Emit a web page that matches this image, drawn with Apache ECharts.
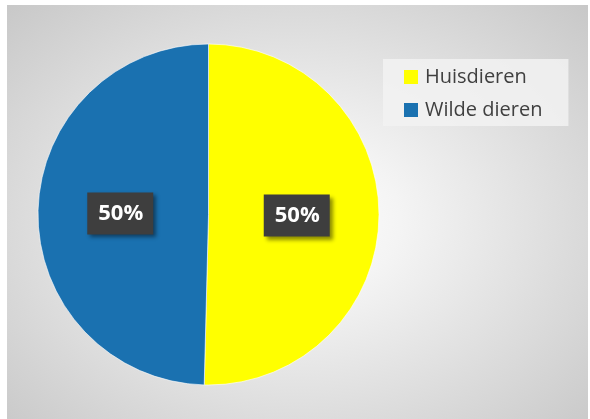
<!DOCTYPE html>
<html>
<head>
<meta charset="utf-8">
<script src="https://cdn.jsdelivr.net/npm/echarts@6/dist/echarts.min.js"></script>
<style>
html,body{margin:0;padding:0;background:#fff;width:590px;height:419px;overflow:hidden;}
#wrap{position:absolute;left:7px;top:5px;width:581px;height:414px;
background:radial-gradient(ellipse farthest-corner at 50% 52%, #ffffff 0%, #f4f4f4 25%, #c8c8c8 100%);}
#chart{width:581px;height:414px;}
</style>
</head>
<body>
<div id="wrap"><div id="chart"></div></div>
<script>
const categories = ['Huisdieren', 'Wilde dieren'];
const values = [50.4, 49.6];
const colors = ['#ffff00', '#1a71b0'];

const chart = echarts.init(document.getElementById('chart'), null, {renderer: 'canvas'});
chart.setOption({
  backgroundColor: 'transparent',
  animation: false,
  legend: {
    orient: 'vertical',
    left: 376,
    top: 54,
    padding: [8, 26, 6, 21],
    backgroundColor: 'rgba(242,242,242,0.85)',
    itemWidth: 14,
    itemHeight: 14,
    itemGap: 13,
    icon: 'rect',
    itemStyle: {borderWidth: 0},
    textStyle: {
      fontFamily: 'Open Sans',
      fontSize: 20,
      color: '#404040',
      padding: [0, 0, 0, 2]
    },
    data: categories
  },
  series: [{
    type: 'pie',
    center: [201.5, 209.5],
    radius: [0, 170.5],
    startAngle: 90,
    clockwise: true,
    data: categories.map((c, i) => ({name: c, value: values[i], itemStyle: {color: colors[i]}})),
    itemStyle: {borderColor: '#ffffff', borderWidth: 0.6},
    emphasis: {disabled: true},
    label: {
      show: true,
      position: 'inside',
      formatter: p => Math.round(p.percent) + '%',
      fontFamily: 'Open Sans',
      fontWeight: 'bold',
      fontSize: 22,
      lineHeight: 26,
      color: '#ffffff',
      backgroundColor: '#3e3e3e',
      padding: [8, 10, 8, 11],
      shadowBlur: 4,
      shadowOffsetX: 3,
      shadowOffsetY: 3,
      shadowColor: 'rgba(0,0,0,0.45)'
    },
    labelLine: {show: false}
  }]
});
</script>
</body>
</html>
